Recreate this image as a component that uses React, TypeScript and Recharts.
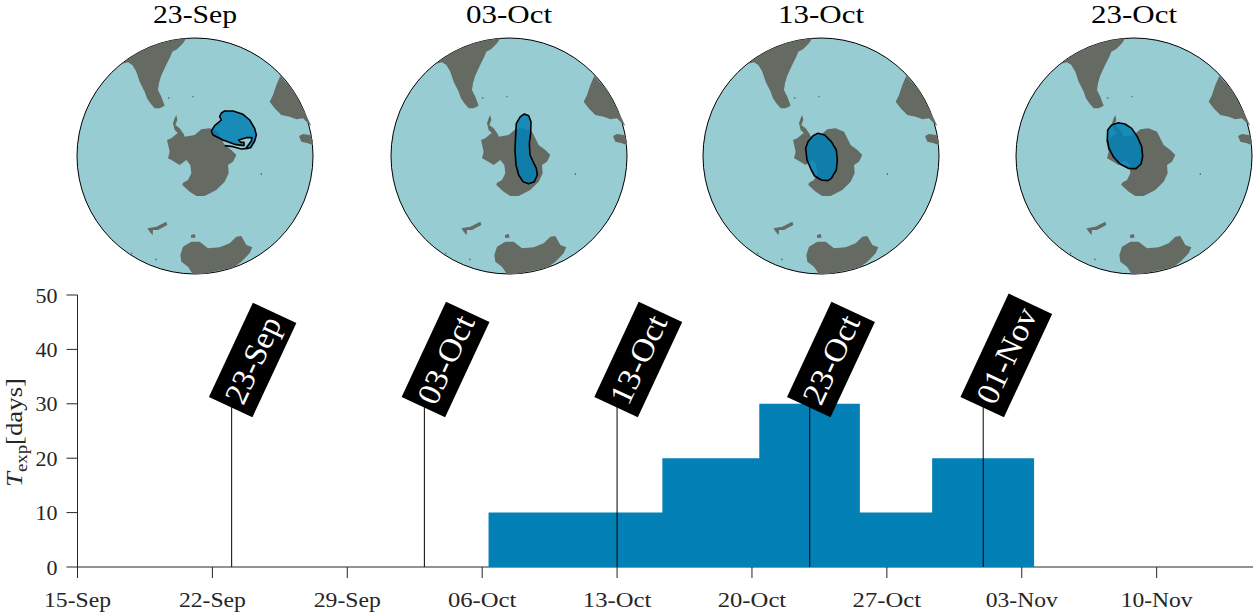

import React from 'react';
import {
  ComposedChart, ScatterChart, Scatter, Area, XAxis, YAxis, ReferenceLine, ReferenceDot,
} from 'recharts';

// ---------- lower panel data (x = days since 15-Sep) ----------
const xTickDays = [0, 7, 14, 21, 28, 35, 42, 49, 56];
const xTickLabels = ['15-Sep', '22-Sep', '29-Sep', '06-Oct', '13-Oct', '20-Oct', '27-Oct', '03-Nov', '10-Nov'];
const yTicks = [0, 10, 20, 30, 40, 50];
const stepDays = [21.33, 30.35, 35.38, 40.6, 44.35, 49.64];
const stepValues = [10, 20, 30, 10, 20, 0];
const eventDays = [8, 18, 28, 38, 47];
const eventLabels = ['23-Sep', '03-Oct', '13-Oct', '23-Oct', '01-Nov'];
const eventHeight = 30;

// ---------- map data (map units: 3 per pixel, circle centre 406,468, radius 354) ----------
type P = [number, number];
const southAmerica: P[] = [[380,115],[370,130],[352,148],[338,155],[332,170],[322,190],[310,215],[303,232],[298,250],[295,270],[305,290],[315,317],[300,325],[285,325],[272,310],[262,295],[255,275],[240,245],[230,215],[218,195],[205,187],[185,192],[220,167],[250,150],[300,130],[340,120]];
const africa: P[] = [[662,228],[650,255],[640,285],[630,305],[645,325],[665,345],[690,350],[710,358],[730,355],[745,370],[755,378],[735,335],[700,270]];
const madagascar: P[] = [[718,408],[730,402],[750,405],[758,418],[765,438],[745,430],[725,425]];
const centralLand: P[] = [[350,345],[353,360],[347,375],[360,385],[372,402],[375,410],[405,405],[425,388],[450,385],[475,395],[495,435],[515,450],[530,465],[520,485],[505,495],[507,520],[495,545],[470,570],[435,588],[410,588],[390,575],[368,555],[370,548],[385,540],[395,520],[392,495],[380,480],[360,495],[335,480],[325,475],[330,455],[322,420],[335,415],[350,402],[355,400],[345,390],[340,370],[345,355]];
const bottomLand: P[] = [[362,765],[370,740],[395,725],[420,725],[445,745],[480,742],[510,730],[530,710],[545,708],[560,735],[578,742],[570,760],[545,785],[520,803],[470,813],[430,822],[400,823],[385,800],[365,785]];
const strait: P[] = [[263,685],[290,680],[320,665],[323,675],[295,690],[280,690],[279,706],[270,695]];
const islet: P[] = [[394,705],[405,702],[408,713],[394,713]];
const speckA: P[] = [[398,288],[402,288],[402,292],[398,292]];
const speckB: P[] = [[325,292],[329,292],[329,296],[325,296]];
const speckC: P[] = [[603,520],[607,520],[607,525],[603,525]];
const speckD: P[] = [[213,757],[219,760],[216,764]];
const speckE: P[] = [[286,776],[291,776],[291,781],[286,781]];
const landParts = [southAmerica, africa, madagascar, centralLand, bottomLand, strait, islet, speckA, speckB, speckC, speckD, speckE];

const blobSep: P[] = [[485,339],[495,333],[520,333],[550,343],[570,360],[585,385],[590,405],[585,423],[573,443],[565,445],[560,443],[575,423],[577,413],[560,413],[537,420],[543,427],[553,427],[553,437],[525,433],[490,420],[460,405],[455,393],[465,377],[485,360],[480,350]];
const blobSepTail: P[] = [[565,445],[545,447],[520,440],[495,437]];
const blobOct03: P[] = [[452,342],[465,347],[472,365],[471,400],[467,430],[469,465],[478,485],[488,505],[491,525],[482,545],[465,551],[448,545],[435,525],[427,495],[424,450],[426,405],[428,370],[440,350]];
const blobOct13: P[] = [[397,400],[417,405],[437,425],[452,450],[455,480],[452,510],[437,535],[427,542],[407,540],[387,528],[377,510],[364,480],[360,445],[367,425],[382,407]];
const blobOct23: P[] = [[359,368],[379,372],[399,385],[416,410],[429,440],[432,470],[427,492],[412,506],[389,505],[364,492],[344,470],[331,445],[326,420],[327,390],[339,375]];

const mapTitles = ['23-Sep', '03-Oct', '13-Oct', '23-Oct'];
const mapBlobs: P[][][] = [[blobSep], [blobOct03], [blobOct13], [blobOct23]];
const mapTails: P[][][] = [[blobSepTail], [], [], []];
const mapCentres = [195.3, 508.5, 821.3, 1134.2];

// ---------- styles ----------
const FONT = '"Liberation Serif", serif';
const INK = '#262626';
const BAR = '#0380B5';
const OCEAN = '#97CDD2';
const LAND = '#656A63';

const toRows = (pts: P[]) => pts.map(([x, y]) => ({ x, y }));
const stepRows = stepDays.map((day, i) => ({ day, value: stepValues[i] }));
const monthWidth = (s: string) => (s.endsWith('Nov') ? 72 : s.endsWith('Oct') ? 68.5 : 67);

const polygon = (fill: string, opacity: number, stroke: string, strokeWidth: number, closed = true) => (props: any) => {
  const pts = props.points as { x: number; y: number }[];
  const d = pts.map((p, i) => `${i ? 'L' : 'M'}${p.x},${p.y}`).join('') + (closed ? 'Z' : '');
  return <path d={d} fill={fill} fillOpacity={opacity} stroke={stroke} strokeWidth={strokeWidth} strokeLinejoin="round" />;
};
const noPoint = () => <g />;

function MapPanel({ index }: { index: number }) {
  const size = 240;
  const centre = mapCentres[index];
  return (
    <div style={{ position: 'absolute', left: centre - size / 2, top: 156 - size / 2, width: size, height: size }}>
      <ScatterChart width={size} height={size} margin={{ top: 2, right: 2, bottom: 2, left: 2 }}>
        <XAxis type="number" dataKey="x" domain={[52, 760]} hide allowDataOverflow />
        <YAxis type="number" dataKey="y" domain={[114, 822]} reversed hide allowDataOverflow />
        <ReferenceDot x={406} y={468} r={118} fill={OCEAN} stroke="#000" strokeWidth={1} ifOverflow="visible" zIndex={100} />
        {landParts.map((part, i) => (
          <Scatter key={i} data={toRows(part)} isAnimationActive={false} shape={noPoint}
            line={polygon(LAND, 1, 'none', 0)} />
        ))}
        {mapBlobs[index].map((part, i) => (
          <Scatter key={`b${i}`} data={toRows(part)} isAnimationActive={false} shape={noPoint}
            line={polygon(BAR, 0.86, '#000', 1.6)} />
        ))}
        {mapTails[index].map((part, i) => (
          <Scatter key={`t${i}`} data={toRows(part)} isAnimationActive={false} shape={noPoint}
            line={polygon('none', 0, '#000', 1.6, false)} />
        ))}
      </ScatterChart>
    </div>
  );
}

function XTick(props: any) {
  const label = xTickLabels[xTickDays.indexOf(props.payload.value)];
  return (
    <text x={props.x} y={606.5} textAnchor="middle" fontFamily={FONT} fontSize={22} fill={INK}
      textLength={monthWidth(label)} lengthAdjust="spacingAndGlyphs">{label}</text>
  );
}
function YTick(props: any) {
  return (
    <text x={57.5} y={props.y + 7.5} textAnchor="end" fontFamily={FONT} fontSize={22} fill={INK}>{props.payload.value}</text>
  );
}
function YTitle() {
  return (
    <text transform="translate(21.5,487) rotate(-90)" fontFamily={FONT} fontSize={23.5} fill={INK}
      textLength={109} lengthAdjust="spacingAndGlyphs">
      <tspan fontStyle="italic">T</tspan>
      <tspan fontSize={16.5} dy={5}>exp</tspan>
      <tspan dy={-5}>[days]</tspan>
    </text>
  );
}

function EventBox(props: any) {
  const label: string = props.label;
  const cx = props.cx - 1;
  const cy = props.cy;
  const long = label.endsWith('Nov') ? 114 : label.endsWith('Sep') ? 104 : 105;
  const textLen = label.endsWith('Nov') ? 102 : label.endsWith('Sep') ? 92 : 94;
  return (
    <g transform={`translate(${cx},${cy}) rotate(-65)`}>
      <rect x={0} y={-24} width={long} height={48} fill="#000" />
      <text x={long / 2} y={11} textAnchor="middle" fontFamily={FONT} fontSize={32} fill="#fff"
        textLength={textLen} lengthAdjust="spacingAndGlyphs">{label}</text>
    </g>
  );
}

export default function App() {
  return (
    <div style={{ position: 'absolute', left: 0, top: 0, width: 1254, height: 612, background: '#fff', overflow: 'hidden' }}>
      {mapTitles.map((t, i) => (
        <svg key={t} style={{ position: 'absolute', left: mapCentres[i] - 60, top: 0, overflow: 'visible' }} width={120} height={34}>
          <text x={60} y={23} textAnchor="middle" fontFamily={FONT} fontSize={25.5} fill="#000"
            textLength={t.endsWith('Sep') ? 84 : 86} lengthAdjust="spacingAndGlyphs">{t}</text>
        </svg>
      ))}
      {mapTitles.map((t, i) => <MapPanel key={t} index={i} />)}
      <div style={{ position: 'absolute', left: 0, top: 0 }}>
        <ComposedChart width={1254} height={612} data={stepRows}
          margin={{ top: 295, right: 1, bottom: 0, left: 0 }}>
          <XAxis type="number" dataKey="day" domain={[0, 61]} ticks={xTickDays} height={45}
            interval={0} stroke={INK} tickSize={11} tick={XTick} allowDataOverflow />
          <YAxis type="number" domain={[0, 50]} ticks={yTicks} width={77.5} interval={0}
            stroke={INK} tickSize={11} tick={YTick} label={{ content: <YTitle /> }} />
          <Area dataKey="value" type="stepAfter" fill={BAR} fillOpacity={1} stroke="none"
            isAnimationActive={false} dot={false} activeDot={false} zIndex={650} />
          {eventDays.map((day) => (
            <ReferenceLine key={day} segment={[{ x: day, y: 0 }, { x: day, y: eventHeight }]}
              stroke="#000" strokeWidth={1} ifOverflow="visible" zIndex={700} />
          ))}
          {eventDays.map((day, i) => (
            <ReferenceDot key={`box${day}`} x={day} y={29.4} r={1} ifOverflow="visible" zIndex={800}
              shape={(p: any) => <EventBox {...p} label={eventLabels[i]} />} />
          ))}
        </ComposedChart>
      </div>
    </div>
  );
}
